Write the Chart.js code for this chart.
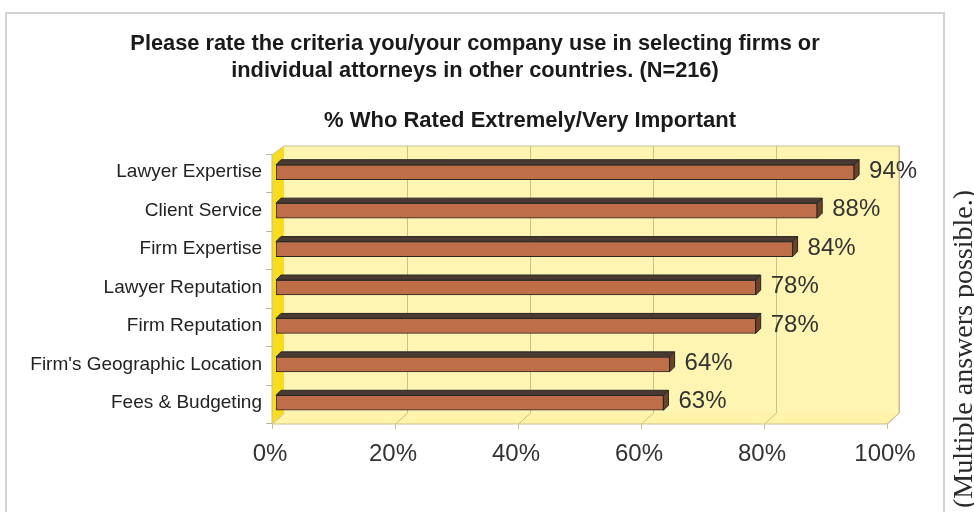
<!DOCTYPE html>
<html>
<head>
<meta charset="utf-8">
<script src="https://cdn.jsdelivr.net/npm/chart.js@4.4.1/dist/chart.umd.min.js"></script>
<style>
  html, body { margin: 0; padding: 0; background: #fff; }
  #criteriaChart { display: block; }
</style>
</head>
<body>
<canvas id="criteriaChart" width="974" height="512"></canvas>
<script>
// survey answers, top to bottom
const criteria = [
  'Lawyer Expertise',
  'Client Service',
  'Firm Expertise',
  'Lawyer Reputation',
  'Firm Reputation',
  "Firm's Geographic Location",
  'Fees & Budgeting'
]
const ratedImportant = [94, 88, 84, 78, 78, 64, 63]
const percentTicks = [0, 20, 40, 60, 80, 100]

const titleLines = [
  'Please rate the criteria you/your company use in selecting firms or',
  'individual attorneys in other countries. (N=216)'
]
const subTitle = '% Who Rated Extremely/Very Important'
const sideNote = '(Multiple answers possible.)'

// fake 3d box around the plot: back wall shifted right/up, floor edge left/down
const WALL = { backDx: 8, backTop: -7, backBottom: -9, frontDx: -4, frontTop: 2, frontBottom: 2 }
const BAR_DEPTH = 5

const backdrop = {
  id: 'backdrop',
  beforeDraw(chart) {
    const ctx = chart.ctx
    const { left, right, top, bottom } = chart.chartArea
    const x = chart.scales.x
    const y = chart.scales.y
    const bl = left + WALL.backDx, br = right + WALL.backDx
    const bt = top + WALL.backTop, bb = bottom + WALL.backBottom
    const fl = left + WALL.frontDx, fr = right + WALL.frontDx
    const ft = top + WALL.frontTop, fb = bottom + WALL.frontBottom
    ctx.save()

    // outer frame
    ctx.strokeStyle = '#d2d2d2'
    ctx.lineWidth = 2
    ctx.strokeRect(6, 13, 938, 530)

    // back wall
    ctx.fillStyle = '#fff5b2'
    ctx.fillRect(bl, bt, br - bl, bb - bt)

    // floor
    ctx.beginPath()
    ctx.moveTo(fl, fb)
    ctx.lineTo(bl, bb)
    ctx.lineTo(br, bb)
    ctx.lineTo(fr, fb)
    ctx.closePath()
    ctx.fillStyle = '#fff3aa'
    ctx.fill()

    // left side wall
    ctx.beginPath()
    ctx.moveTo(fl, ft)
    ctx.lineTo(bl, bt)
    ctx.lineTo(bl, bb)
    ctx.lineTo(fl, fb)
    ctx.closePath()
    ctx.fillStyle = '#f8dc1e'
    ctx.fill()

    // grid lines up the wall and across the floor
    ctx.strokeStyle = '#c9be8c'
    ctx.lineWidth = 1
    percentTicks.forEach(v => {
      const px = Math.round(x.getPixelForValue(v)) + 0.5
      ctx.beginPath()
      if (v > 0) {
        ctx.moveTo(px + WALL.backDx, bt)
        ctx.lineTo(px + WALL.backDx, bb)
      } else {
        ctx.moveTo(px + WALL.backDx, bb)
      }
      ctx.lineTo(px + WALL.frontDx, fb)
      ctx.lineTo(px + WALL.frontDx, fb + 5)
      ctx.stroke()
    })

    // wall outlines
    ctx.beginPath()
    ctx.moveTo(fl, ft)
    ctx.lineTo(bl, bt)
    ctx.lineTo(br, bt)
    ctx.lineTo(br, bb)
    ctx.lineTo(fr, fb)
    ctx.lineTo(fl, fb)
    ctx.closePath()
    ctx.stroke()

    // category ticks beside the side wall
    ctx.strokeStyle = '#b4b4b4'
    for (let i = 0; i <= criteria.length; i++) {
      const py = Math.round(y.getPixelForValue(i - 0.5)) + 1.5
      ctx.beginPath()
      ctx.moveTo(fl - 6, py)
      ctx.lineTo(fl, py)
      ctx.stroke()
    }

    // headings
    ctx.fillStyle = '#1a1a1a'
    ctx.textAlign = 'center'
    ctx.textBaseline = 'middle'
    ctx.font = 'bold 21.8px "Liberation Sans", Arial, sans-serif'
    ctx.fillText(titleLines[0], 475, 44)
    ctx.fillText(titleLines[1], 475, 71)
    ctx.font = 'bold 22px "Liberation Sans", Arial, sans-serif'
    ctx.fillText(subTitle, 530, 121)

    // note running up the right edge
    ctx.translate(972, 190)
    ctx.rotate(-Math.PI / 2)
    ctx.textAlign = 'right'
    ctx.textBaseline = 'alphabetic'
    ctx.fillStyle = '#2a2a2a'
    ctx.font = '28px "Liberation Serif", "Times New Roman", serif'
    ctx.fillText(sideNote, 0, 0)
    ctx.restore()
  }
}

const barFaces = {
  id: 'barFaces',
  afterDatasetsDraw(chart) {
    const ctx = chart.ctx
    const meta = chart.getDatasetMeta(0)
    ctx.save()
    ctx.strokeStyle = '#262626'
    ctx.lineWidth = 1
    ctx.lineJoin = 'round'
    meta.data.forEach((bar, i) => {
      const { x, y, base, height } = bar.getProps(['x', 'y', 'base', 'height'], true)
      const t = y - height / 2
      const b = y + height / 2
      const d = BAR_DEPTH

      // top face
      ctx.beginPath()
      ctx.moveTo(base, t)
      ctx.lineTo(base + d, t - d)
      ctx.lineTo(x + d, t - d)
      ctx.lineTo(x, t)
      ctx.closePath()
      ctx.fillStyle = '#4a3a31'
      ctx.fill()
      ctx.stroke()

      // end cap
      ctx.beginPath()
      ctx.moveTo(x, t)
      ctx.lineTo(x + d, t - d)
      ctx.lineTo(x + d, b - d)
      ctx.lineTo(x, b)
      ctx.closePath()
      ctx.fillStyle = '#6e4229'
      ctx.fill()
      ctx.stroke()

      // value label
      ctx.fillStyle = '#333'
      ctx.font = '24px "Liberation Sans", Arial, sans-serif'
      ctx.textAlign = 'left'
      ctx.textBaseline = 'middle'
      ctx.fillText(ratedImportant[i] + '%', x + 15, y - 1)
    })
    ctx.restore()
  }
}

const ctx = document.getElementById('criteriaChart')
window.criteriaChart = new Chart(ctx, {
  type: 'bar',
  data: {
    labels: criteria,
    datasets: [{
      data: ratedImportant,
      backgroundColor: '#bf6f47',
      borderColor: '#262626',
      borderWidth: 1,
      borderSkipped: false,
      barThickness: 15
    }]
  },
  options: {
    indexAxis: 'y',
    responsive: false,
    animation: false,
    layout: { padding: { left: 0, right: 83, top: 153, bottom: 0 } },
    plugins: {
      legend: { display: false },
      tooltip: { enabled: false }
    },
    scales: {
      x: {
        min: 0,
        max: 100,
        afterFit(scale) { scale.height = 90 },
        afterBuildTicks(scale) { scale.ticks = percentTicks.map(v => ({ value: v })) },
        grid: { display: false, drawTicks: false },
        border: { display: false },
        ticks: {
          padding: 18,
          labelOffset: -6,
          color: '#333',
          font: { family: '"Liberation Sans", Arial, sans-serif', size: 24 },
          callback: v => v + '%'
        }
      },
      y: {
        afterFit(scale) { scale.width = 276 },
        grid: { display: false, drawTicks: false },
        border: { display: false },
        ticks: {
          padding: 14,
          color: '#222',
          font: { family: '"Liberation Sans", Arial, sans-serif', size: 19 }
        }
      }
    }
  },
  plugins: [backdrop, barFaces]
})
</script>
</body>
</html>
